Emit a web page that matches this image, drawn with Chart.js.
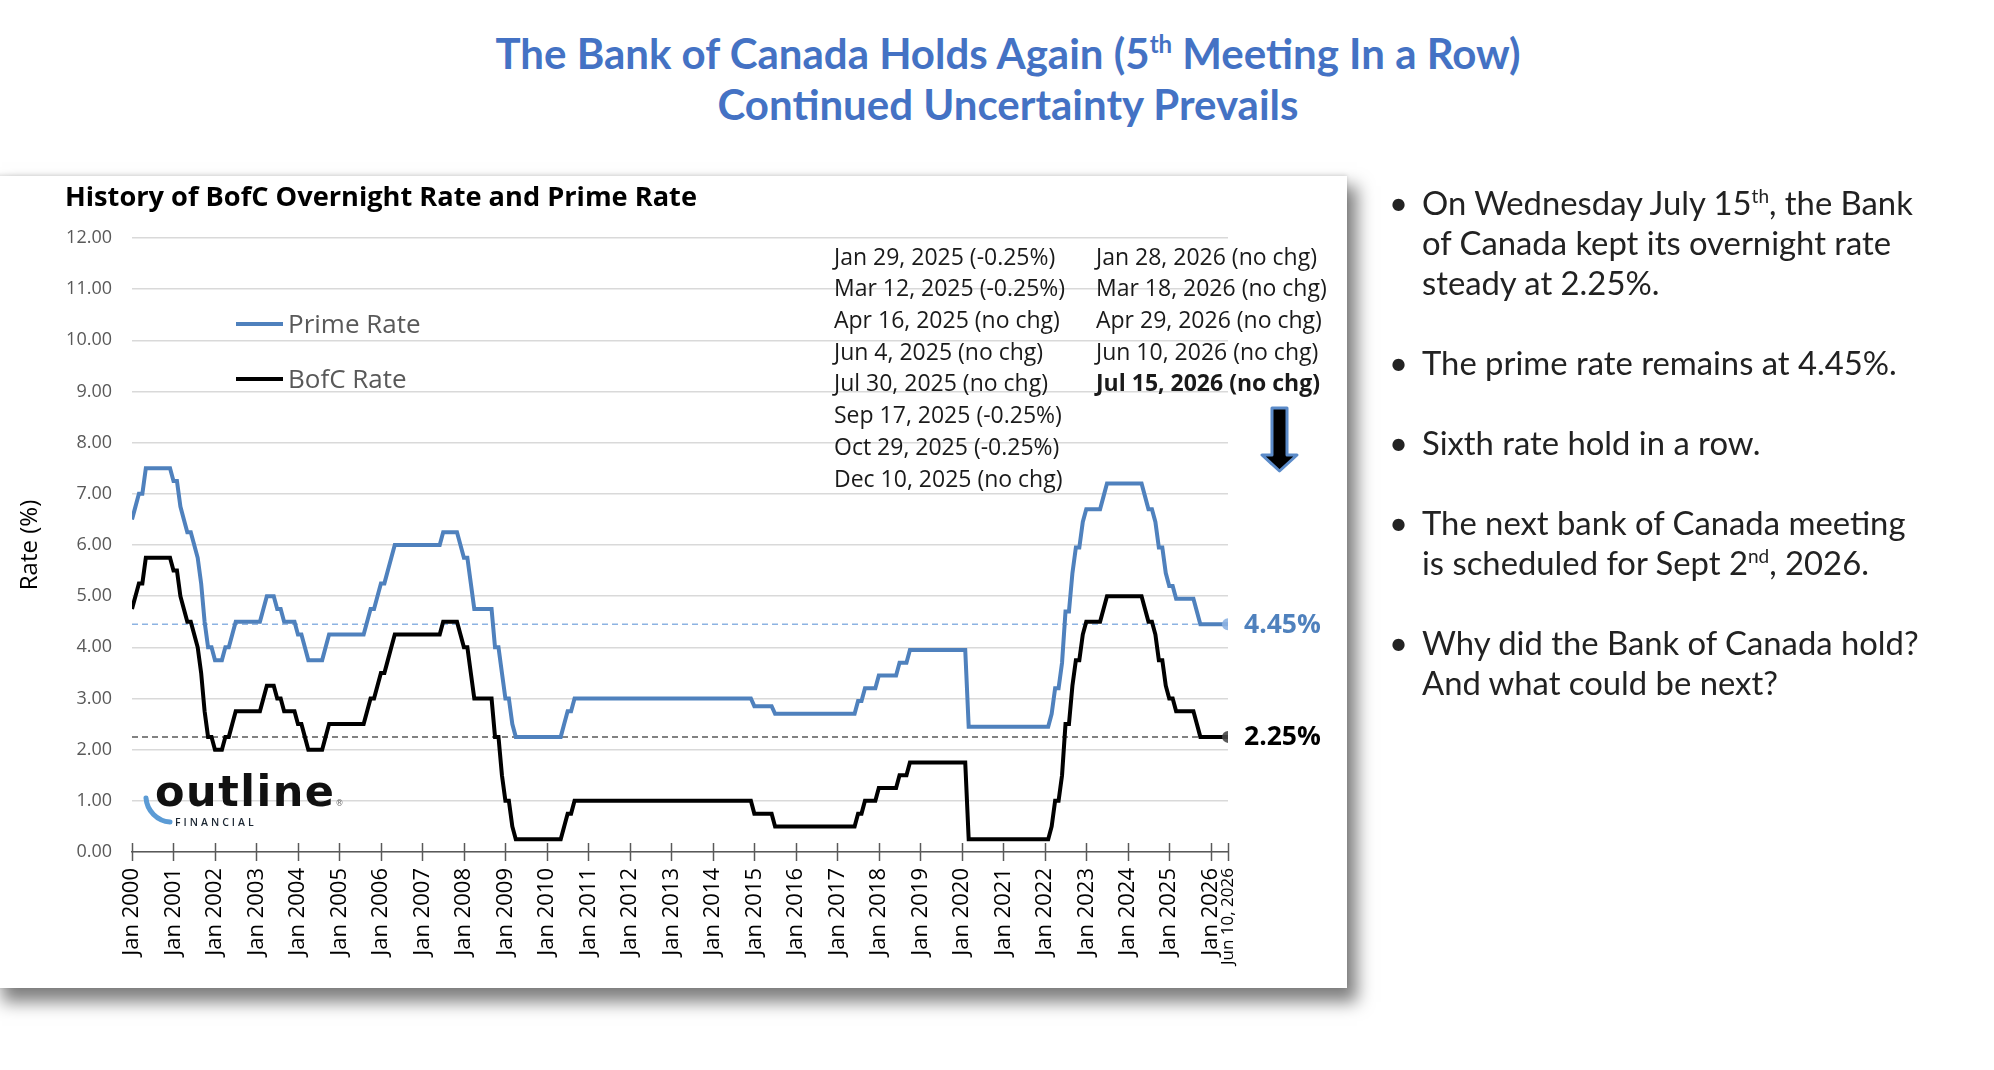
<!DOCTYPE html>
<html>
<head>
<meta charset="utf-8">
<title>History of BofC Overnight Rate and Prime Rate</title>
<script src="https://cdn.jsdelivr.net/npm/chart.js@4.4.1/dist/chart.umd.min.js"></script>
<style>
  html, body { margin: 0; padding: 0; background: #fff; }
  body { width: 1994px; height: 1070px; position: relative; overflow: hidden; font-family: 'Open Sans', sans-serif; }

  /* titre de la diapo */
  .slide-title { position: absolute; left: 0; top: 28px; width: 2016px; text-align: center;
    font-family: Lato, sans-serif; font-weight: 700; font-size: 42px; line-height: 51px; color: #4472c4; }
  .slide-title sup { font-size: 24px; line-height: 0; vertical-align: 16px; }

  /* panneau blanc du graphique */
  .panel { position: absolute; left: -4px; top: 176px; width: 1351px; height: 812px; background: #fff;
    box-shadow: 8px 12px 16px 2px rgba(0,0,0,0.5), 0 -1px 4px rgba(0,0,0,0.12); }
  #chart-box { position: absolute; left: 0; top: 176px; width: 1347px; height: 812px; }

  .chart-title { position: absolute; left: 65px; top: 179px; font-family: 'Open Sans', sans-serif; font-weight: 700;
    font-size: 27.2px; line-height: 34px; color: #000; white-space: nowrap; }

  .legend-item { position: absolute; left: 236px; font-family: 'Open Sans', sans-serif; font-size: 26px; line-height: 30px;
    color: #595959; white-space: nowrap; }
  .legend-line { display: inline-block; width: 47px; height: 4px; vertical-align: middle; margin-right: 5px; position: relative; top: -2px; }

  .ann { position: absolute; top: 240.6px; font-family: 'Open Sans', sans-serif; font-size: 23px; line-height: 31.7px;
    color: #1a1a1a; white-space: nowrap; }

  .logo-word { position: absolute; left: 155px; top: 770px; font-family: 'DejaVu Sans', sans-serif; font-weight: 700;
    font-size: 43px; line-height: 43px; letter-spacing: 1.5px; color: #111; }
  .logo-word .reg { font-size: 8px; font-weight: 400; letter-spacing: 0; color: #666; vertical-align: baseline; margin-left: 0; }
  .logo-sub { position: absolute; left: 175px; top: 815px; font-family: 'Open Sans', sans-serif; font-weight: 600;
    font-size: 10.5px; line-height: 14px; letter-spacing: 3px; color: #1c2733; }

  .bullets { position: absolute; left: 1422px; top: 183.4px; font-family: Lato, sans-serif; font-size: 32.8px;
    line-height: 40px; color: #222; white-space: nowrap; }
  .bullets .b { position: relative; margin-bottom: 40px; }
  .bullets .dot { position: absolute; left: -33px; }
  .bullets sup { font-size: 19px; line-height: 0; vertical-align: 12px; }

  .deco { position: absolute; left: 0; top: 0; pointer-events: none; }
</style>
</head>
<body>

<div class="slide-title">The Bank of Canada Holds Again (5<sup>th</sup> Meeting In a Row)<br>Continued Uncertainty Prevails</div>

<div class="panel"></div>
<div id="chart-box"><canvas id="rateChart"></canvas></div>

<div class="chart-title">History of BofC Overnight Rate and Prime Rate</div>

<div class="legend-item" style="top:308px;"><span class="legend-line" style="background:#4f81bd;"></span>Prime Rate</div>
<div class="legend-item" style="top:363px;"><span class="legend-line" style="background:#000;"></span>BofC Rate</div>

<div class="ann" style="left:834px;">
  Jan 29, 2025 (-0.25%)<br>
  Mar 12, 2025 (-0.25%)<br>
  Apr 16, 2025 (no chg)<br>
  Jun 4, 2025 (no chg)<br>
  Jul 30, 2025 (no chg)<br>
  Sep 17, 2025 (-0.25%)<br>
  Oct 29, 2025 (-0.25%)<br>
  Dec 10, 2025 (no chg)
</div>
<div class="ann" style="left:1096px;">
  Jan 28, 2026 (no chg)<br>
  Mar 18, 2026 (no chg)<br>
  Apr 29, 2026 (no chg)<br>
  Jun 10, 2026 (no chg)<br>
  <b>Jul 15, 2026 (no chg)</b>
</div>

<div class="logo-word">outline<span class="reg">®</span></div>
<div class="logo-sub">FINANCIAL</div>

<!-- flèche + arc du logo -->
<svg class="deco" width="1994" height="1070">
  <path d="M146 798 A 26 26 0 0 0 170 822" fill="none" stroke="#5b9bd5" stroke-width="5" stroke-linecap="round"/>
  <path d="M1272 408 H1287 V455 H1297 L1279.5 471 L1262 455 H1272 Z" fill="#000" stroke="#5b8bc9" stroke-width="3" stroke-linejoin="round"/>
</svg>

<div class="bullets">
  <div class="b"><span class="dot">•</span>On Wednesday July 15<sup>th</sup>, the Bank<br>of Canada kept its overnight rate<br>steady at 2.25%.</div>
  <div class="b"><span class="dot">•</span>The prime rate remains at 4.45%.</div>
  <div class="b"><span class="dot">•</span>Sixth rate hold in a row.</div>
  <div class="b"><span class="dot">•</span>The next bank of Canada meeting<br>is scheduled for Sept 2<sup>nd</sup>, 2026.</div>
  <div class="b"><span class="dot">•</span>Why did the Bank of Canada hold?<br>And what could be next?</div>
</div>

<script>
// -----------------------------------------------
// Données : taux mensuels (fin de mois), jan 2000 -> 10 juin 2026
// -----------------------------------------------
var BOFC_RATE = [
  4.75, 5.00, 5.25, 5.25, 5.75, 5.75, 5.75, 5.75, 5.75, 5.75, 5.75, 5.75, // 2000
  5.50, 5.50, 5.00, 4.75, 4.50, 4.50, 4.25, 4.00, 3.50, 2.75, 2.25, 2.25, // 2001
  2.00, 2.00, 2.00, 2.25, 2.25, 2.50, 2.75, 2.75, 2.75, 2.75, 2.75, 2.75, // 2002
  2.75, 2.75, 3.00, 3.25, 3.25, 3.25, 3.00, 3.00, 2.75, 2.75, 2.75, 2.75, // 2003
  2.50, 2.50, 2.25, 2.00, 2.00, 2.00, 2.00, 2.00, 2.25, 2.50, 2.50, 2.50, // 2004
  2.50, 2.50, 2.50, 2.50, 2.50, 2.50, 2.50, 2.50, 2.75, 3.00, 3.00, 3.25, // 2005
  3.50, 3.50, 3.75, 4.00, 4.25, 4.25, 4.25, 4.25, 4.25, 4.25, 4.25, 4.25, // 2006
  4.25, 4.25, 4.25, 4.25, 4.25, 4.25, 4.50, 4.50, 4.50, 4.50, 4.50, 4.25, // 2007
  4.00, 4.00, 3.50, 3.00, 3.00, 3.00, 3.00, 3.00, 3.00, 2.25, 2.25, 1.50, // 2008
  1.00, 1.00, 0.50, 0.25, 0.25, 0.25, 0.25, 0.25, 0.25, 0.25, 0.25, 0.25, // 2009
  0.25, 0.25, 0.25, 0.25, 0.25, 0.50, 0.75, 0.75, 1.00, 1.00, 1.00, 1.00, // 2010
  1.00, 1.00, 1.00, 1.00, 1.00, 1.00, 1.00, 1.00, 1.00, 1.00, 1.00, 1.00, // 2011
  1.00, 1.00, 1.00, 1.00, 1.00, 1.00, 1.00, 1.00, 1.00, 1.00, 1.00, 1.00, // 2012
  1.00, 1.00, 1.00, 1.00, 1.00, 1.00, 1.00, 1.00, 1.00, 1.00, 1.00, 1.00, // 2013
  1.00, 1.00, 1.00, 1.00, 1.00, 1.00, 1.00, 1.00, 1.00, 1.00, 1.00, 1.00, // 2014
  0.75, 0.75, 0.75, 0.75, 0.75, 0.75, 0.50, 0.50, 0.50, 0.50, 0.50, 0.50, // 2015
  0.50, 0.50, 0.50, 0.50, 0.50, 0.50, 0.50, 0.50, 0.50, 0.50, 0.50, 0.50, // 2016
  0.50, 0.50, 0.50, 0.50, 0.50, 0.50, 0.75, 0.75, 1.00, 1.00, 1.00, 1.00, // 2017
  1.25, 1.25, 1.25, 1.25, 1.25, 1.25, 1.50, 1.50, 1.50, 1.75, 1.75, 1.75, // 2018
  1.75, 1.75, 1.75, 1.75, 1.75, 1.75, 1.75, 1.75, 1.75, 1.75, 1.75, 1.75, // 2019
  1.75, 1.75, 0.25, 0.25, 0.25, 0.25, 0.25, 0.25, 0.25, 0.25, 0.25, 0.25, // 2020
  0.25, 0.25, 0.25, 0.25, 0.25, 0.25, 0.25, 0.25, 0.25, 0.25, 0.25, 0.25, // 2021
  0.25, 0.25, 0.50, 1.00, 1.00, 1.50, 2.50, 2.50, 3.25, 3.75, 3.75, 4.25, // 2022
  4.50, 4.50, 4.50, 4.50, 4.50, 4.75, 5.00, 5.00, 5.00, 5.00, 5.00, 5.00, // 2023
  5.00, 5.00, 5.00, 5.00, 5.00, 4.75, 4.50, 4.50, 4.25, 3.75, 3.75, 3.25, // 2024
  3.00, 3.00, 2.75, 2.75, 2.75, 2.75, 2.75, 2.75, 2.50, 2.25, 2.25, 2.25, // 2025
  2.25, 2.25, 2.25, 2.25, 2.25, 2.25                                      // 2026
];

var PRIME_RATE = [
  6.50, 6.75, 7.00, 7.00, 7.50, 7.50, 7.50, 7.50, 7.50, 7.50, 7.50, 7.50, // 2000
  7.25, 7.25, 6.75, 6.50, 6.25, 6.25, 6.00, 5.75, 5.25, 4.50, 4.00, 4.00, // 2001
  3.75, 3.75, 3.75, 4.00, 4.00, 4.25, 4.50, 4.50, 4.50, 4.50, 4.50, 4.50, // 2002
  4.50, 4.50, 4.75, 5.00, 5.00, 5.00, 4.75, 4.75, 4.50, 4.50, 4.50, 4.50, // 2003
  4.25, 4.25, 4.00, 3.75, 3.75, 3.75, 3.75, 3.75, 4.00, 4.25, 4.25, 4.25, // 2004
  4.25, 4.25, 4.25, 4.25, 4.25, 4.25, 4.25, 4.25, 4.50, 4.75, 4.75, 5.00, // 2005
  5.25, 5.25, 5.50, 5.75, 6.00, 6.00, 6.00, 6.00, 6.00, 6.00, 6.00, 6.00, // 2006
  6.00, 6.00, 6.00, 6.00, 6.00, 6.00, 6.25, 6.25, 6.25, 6.25, 6.25, 6.00, // 2007
  5.75, 5.75, 5.25, 4.75, 4.75, 4.75, 4.75, 4.75, 4.75, 4.00, 4.00, 3.50, // 2008
  3.00, 3.00, 2.50, 2.25, 2.25, 2.25, 2.25, 2.25, 2.25, 2.25, 2.25, 2.25, // 2009
  2.25, 2.25, 2.25, 2.25, 2.25, 2.50, 2.75, 2.75, 3.00, 3.00, 3.00, 3.00, // 2010
  3.00, 3.00, 3.00, 3.00, 3.00, 3.00, 3.00, 3.00, 3.00, 3.00, 3.00, 3.00, // 2011
  3.00, 3.00, 3.00, 3.00, 3.00, 3.00, 3.00, 3.00, 3.00, 3.00, 3.00, 3.00, // 2012
  3.00, 3.00, 3.00, 3.00, 3.00, 3.00, 3.00, 3.00, 3.00, 3.00, 3.00, 3.00, // 2013
  3.00, 3.00, 3.00, 3.00, 3.00, 3.00, 3.00, 3.00, 3.00, 3.00, 3.00, 3.00, // 2014
  2.85, 2.85, 2.85, 2.85, 2.85, 2.85, 2.70, 2.70, 2.70, 2.70, 2.70, 2.70, // 2015
  2.70, 2.70, 2.70, 2.70, 2.70, 2.70, 2.70, 2.70, 2.70, 2.70, 2.70, 2.70, // 2016
  2.70, 2.70, 2.70, 2.70, 2.70, 2.70, 2.95, 2.95, 3.20, 3.20, 3.20, 3.20, // 2017
  3.45, 3.45, 3.45, 3.45, 3.45, 3.45, 3.70, 3.70, 3.70, 3.95, 3.95, 3.95, // 2018
  3.95, 3.95, 3.95, 3.95, 3.95, 3.95, 3.95, 3.95, 3.95, 3.95, 3.95, 3.95, // 2019
  3.95, 3.95, 2.45, 2.45, 2.45, 2.45, 2.45, 2.45, 2.45, 2.45, 2.45, 2.45, // 2020
  2.45, 2.45, 2.45, 2.45, 2.45, 2.45, 2.45, 2.45, 2.45, 2.45, 2.45, 2.45, // 2021
  2.45, 2.45, 2.70, 3.20, 3.20, 3.70, 4.70, 4.70, 5.45, 5.95, 5.95, 6.45, // 2022
  6.70, 6.70, 6.70, 6.70, 6.70, 6.95, 7.20, 7.20, 7.20, 7.20, 7.20, 7.20, // 2023
  7.20, 7.20, 7.20, 7.20, 7.20, 6.95, 6.70, 6.70, 6.45, 5.95, 5.95, 5.45, // 2024
  5.20, 5.20, 4.95, 4.95, 4.95, 4.95, 4.95, 4.95, 4.70, 4.45, 4.45, 4.45, // 2025
  4.45, 4.45, 4.45, 4.45, 4.45, 4.45                                      // 2026
];

var X_TICK_LABELS = [
  'Jan 2000', 'Jan 2001', 'Jan 2002', 'Jan 2003', 'Jan 2004', 'Jan 2005', 'Jan 2006',
  'Jan 2007', 'Jan 2008', 'Jan 2009', 'Jan 2010', 'Jan 2011', 'Jan 2012', 'Jan 2013',
  'Jan 2014', 'Jan 2015', 'Jan 2016', 'Jan 2017', 'Jan 2018', 'Jan 2019', 'Jan 2020',
  'Jan 2021', 'Jan 2022', 'Jan 2023', 'Jan 2024', 'Jan 2025', 'Jan 2026', 'Jun 10, 2026'
];

var Y_TICKS = [0, 1, 2, 3, 4, 5, 6, 7, 8, 9, 10, 11, 12];

var PRIME_NOW = 4.45;
var BOFC_NOW = 2.25;

// index du dernier point (10 juin 2026)
var END_X = BOFC_RATE.length - 1;

// positions des graduations : un janvier tous les 12 mois + le dernier point
var X_TICK_POS = X_TICK_LABELS.map(function(lbl, i) {
  return i < X_TICK_LABELS.length - 1 ? i * 12 : END_X;
});

function toPoints(arr) {
  return arr.map(function(v, i) { return { x: i, y: v }; });
}

// ——————————————————————————————————————————
// Plugin : graduations croisées sur l'axe X + étiquettes finales
// ——————————————————————————————————————————
var extrasPlugin = {
  id: 'extras',
  afterDraw: function(chart) {
    var ctx = chart.ctx;
    var xs = chart.scales.x;
    var ys = chart.scales.y;
    var base = ys.getPixelForValue(0);

    ctx.save();
    ctx.strokeStyle = '#595959';
    ctx.lineWidth = 1.5;
    X_TICK_POS.forEach(function(v) {
      var px = Math.round(xs.getPixelForValue(v)) + 0.5;
      ctx.beginPath();
      ctx.moveTo(px, base - 9);
      ctx.lineTo(px, base + 9);
      ctx.stroke();
    });

    var endPx = xs.getPixelForValue(END_X);
    ctx.font = '700 26.5px "Open Sans"';
    ctx.textAlign = 'left';
    ctx.textBaseline = 'middle';
    ctx.fillStyle = '#4f81bd';
    ctx.fillText(PRIME_NOW.toFixed(2) + '%', endPx + 16, ys.getPixelForValue(PRIME_NOW) + 1);
    ctx.fillStyle = '#000';
    ctx.fillText(BOFC_NOW.toFixed(2) + '%', endPx + 16, ys.getPixelForValue(BOFC_NOW) + 1);
    ctx.restore();
  }
};

function crearGrafica() {
  var ctx = document.getElementById('rateChart');
  if (!ctx) return;

  new Chart(ctx, {
    type: 'line',
    data: {
      datasets: [
        {
          label: 'BofC Rate',
          data: toPoints(BOFC_RATE),
          borderColor: '#000',
          borderWidth: 4,
          pointRadius: 0,
          tension: 0,
          order: 2
        },
        {
          label: 'Prime Rate',
          data: toPoints(PRIME_RATE),
          borderColor: '#4f81bd',
          borderWidth: 4,
          pointRadius: 0,
          tension: 0,
          order: 3
        },
        {
          label: 'Prime level',
          data: [{ x: 0, y: PRIME_NOW }, { x: END_X, y: PRIME_NOW }],
          borderColor: '#8db3e2',
          borderWidth: 1.5,
          borderDash: [6, 4],
          pointRadius: 0,
          order: 10
        },
        {
          label: 'BofC level',
          data: [{ x: 0, y: BOFC_NOW }, { x: END_X, y: BOFC_NOW }],
          borderColor: '#595959',
          borderWidth: 1.5,
          borderDash: [6, 4],
          pointRadius: 0,
          order: 11
        },
        {
          label: 'Prime end',
          data: [{ x: END_X, y: PRIME_NOW }],
          showLine: false,
          pointRadius: 6,
          pointBorderWidth: 0,
          pointBackgroundColor: 'rgba(141,179,226,0.9)',
          order: 0
        },
        {
          label: 'BofC end',
          data: [{ x: END_X, y: BOFC_NOW }],
          showLine: false,
          pointRadius: 6,
          pointBorderWidth: 0,
          pointBackgroundColor: 'rgba(70,70,70,0.9)',
          order: 0
        }
      ]
    },
    options: {
      responsive: true,
      maintainAspectRatio: false,
      animation: false,
      layout: { padding: { top: 62, right: 119, left: 0, bottom: 0 } },
      plugins: {
        legend: { display: false },
        tooltip: { enabled: false }
      },
      scales: {
        x: {
          type: 'linear',
          min: 0,
          max: END_X,
          afterBuildTicks: function(scale) {
            scale.ticks = X_TICK_POS.map(function(v) { return { value: v }; });
          },
          afterFit: function(scale) { scale.height = 136; },
          grid: { display: false, drawTicks: false },
          border: { display: true, color: '#595959', width: 1.5 },
          ticks: {
            autoSkip: false,
            minRotation: 90,
            maxRotation: 90,
            padding: 16,
            color: '#000',
            font: function(c) {
              return c.index === X_TICK_LABELS.length - 1
                ? { family: 'Open Sans', size: 17 }
                : { family: 'Open Sans', size: 22 };
            },
            callback: function(v, i) { return X_TICK_LABELS[i]; }
          }
        },
        y: {
          min: 0,
          max: 12,
          afterBuildTicks: function(scale) {
            scale.ticks = Y_TICKS.map(function(v) { return { value: v }; });
          },
          afterFit: function(scale) { scale.width = 132; },
          grid: { color: '#d9d9d9', lineWidth: 1.5, drawTicks: false },
          border: { display: false },
          ticks: {
            padding: 20,
            color: '#595959',
            font: { family: 'Open Sans', size: 18 },
            callback: function(v) { return Number(v).toFixed(2); }
          },
          title: {
            display: true,
            text: 'Rate (%)',
            color: '#000',
            font: { family: 'Open Sans', size: 24 },
            padding: { top: 16, bottom: 0 }
          }
        }
      }
    },
    plugins: [extrasPlugin]
  });
}

// attendre les polices avant de dessiner
Promise.all([
  document.fonts.load('18px "Open Sans"'),
  document.fonts.load('700 24px "Open Sans"')
]).then(crearGrafica, crearGrafica);
</script>
</body>
</html>
